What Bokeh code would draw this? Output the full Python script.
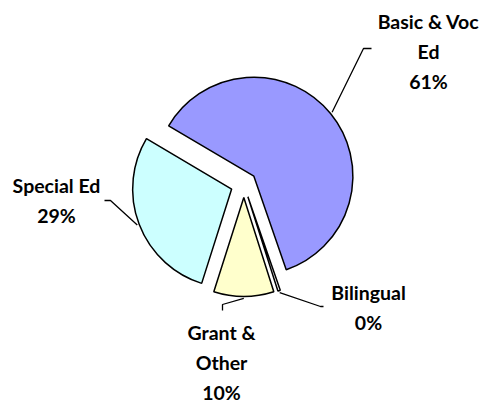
import math
from bokeh.plotting import figure
from bokeh.models import Range1d, ColumnDataSource
from bokeh.core.properties import value
from bokeh.embed import file_html
from bokeh.resources import INLINE

# ---- data ----
categories = ["Basic & Voc Ed", "Bilingual", "Grant & Other", "Special Ed"]
label_lines = [["Basic & Voc", "Ed"], ["Bilingual"], ["Grant &", "Other"], ["Special Ed"]]
shares = [61.2, 0.4, 9.8, 28.6]
colors = ["#9999FF", "#FFFFFF", "#FFFFCC", "#CCFFFF"]

# ---- layout (screen pixels, y down) ----
W, H = 479, 404
CX, CY = 243.3, 183.9
R = 99.0
EXPLODE = 13.0
FIRST_ANGLE = 149.4  # degrees, math convention; slices run clockwise
FONT = "Lato"
FONT_SIZE = "19.5px"
LINE_GAP = 30
label_pos = [(428, 21), (368, 292), (221, 332), (56, 185)]  # centre of first line
elbows = [[(363, 48), (371, 48)], [(320, 306), (323, 306)],
          [(222, 304), (222, 310)], [(110, 200), (104, 200)]]

p = figure(width=W, height=H, min_border=0, x_range=Range1d(0, W), y_range=Range1d(0, H),
           output_backend="svg", toolbar_location=None)
p.axis.visible = False
p.grid.visible = False
p.outline_line_color = None
p.background_fill_color = "white"
p.border_fill_color = "white"

total = sum(shares)
cum = 0.0
wx, wy, sa, ea, leaders_x, leaders_y = [], [], [], [], [], []
tx, ty, tt = [], [], []
for i, v in enumerate(shares):
    a_hi = FIRST_ANGLE - cum / total * 360.0
    cum += v
    a_lo = FIRST_ANGLE - cum / total * 360.0
    mid = math.radians((a_hi + a_lo) / 2)
    ax = CX + EXPLODE * math.cos(mid)
    ay = (H - CY) + EXPLODE * math.sin(mid)
    wx.append(ax); wy.append(ay)
    sa.append(math.radians(a_lo)); ea.append(math.radians(a_hi))
    # leader line from arc midpoint to label elbow
    sx = ax + (R + 2) * math.cos(mid)
    sy = ay + (R + 2) * math.sin(mid)
    xs = [sx] + [e[0] for e in elbows[i]]
    ys = [sy] + [H - e[1] for e in elbows[i]]
    leaders_x.append(xs); leaders_y.append(ys)
    # labels
    lines = label_lines[i] + ["%d%%" % round(v / total * 100)]
    lx, ly = label_pos[i]
    for k, s in enumerate(lines):
        tx.append(lx); ty.append(H - (ly + k * LINE_GAP)); tt.append(s)

src = ColumnDataSource(dict(x=wx, y=wy, sa=sa, ea=ea, color=colors))
p.wedge(x="x", y="y", radius=R, start_angle="sa", end_angle="ea", source=src,
        fill_color="color", line_color="black", line_width=1.5, direction="anticlock")

p.multi_line(xs=leaders_x, ys=leaders_y, line_color="black", line_width=1.3)

p.text(x=tx, y=ty, text=tt, text_font=value(FONT), text_font_size=value(FONT_SIZE),
       text_font_style="bold", text_align="center", text_baseline="middle", text_color="black")

open("out.html", "w").write(file_html(p, INLINE))
